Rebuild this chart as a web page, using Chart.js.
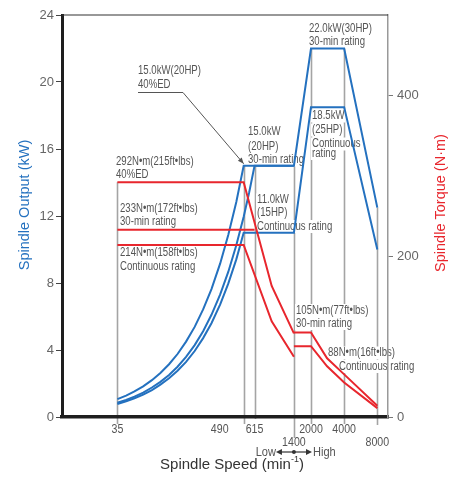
<!DOCTYPE html>
<html>
<head>
<meta charset="utf-8">
<script src="https://cdn.jsdelivr.net/npm/chart.js@4.4.1/dist/chart.umd.min.js"></script>
<style>
  body { margin: 0; background: #fff; }
  canvas { display: block; }
</style>
</head>
<body>
<canvas id="chart" width="476" height="480"></canvas>
<script>
const speedTicks = [35, 490, 615, 1400, 2000, 4000, 8000];
const outputTicks = [0, 4, 8, 12, 16, 20, 24];
const torqueTicks = [0, 200, 400];

// spindle output, kW
const out40EDSpeed = [35, 42, 50, 60, 72, 86, 103, 123, 147, 176, 210, 250, 300, 355, 420, 490, 1400];
const out40EDKw = [1.07, 1.28, 1.53, 1.83, 2.20, 2.63, 3.15, 3.76, 4.50, 5.38, 6.42, 7.64, 9.17, 10.86, 12.84, 15.0, 15.0];
const out30MinSpeed = [35, 42, 50, 60, 72, 86, 103, 123, 147, 176, 210, 250, 300, 355, 420, 490, 550, 615, 1400, 2000, 4000, 8000];
const out30MinKw = [0.85, 1.02, 1.22, 1.46, 1.76, 2.10, 2.51, 3.00, 3.59, 4.29, 5.12, 6.10, 7.32, 8.66, 10.25, 11.96, 13.42, 15.0, 15.0, 22.0, 22.0, 12.5];
const outContSpeed = [35, 42, 50, 60, 72, 86, 103, 123, 147, 176, 210, 250, 300, 355, 420, 490, 1400, 2000, 4000, 8000];
const outContKw = [0.78, 0.94, 1.12, 1.34, 1.61, 1.93, 2.31, 2.76, 3.29, 3.94, 4.71, 5.60, 6.72, 7.96, 9.41, 11.0, 11.0, 18.5, 18.5, 10.0];

// spindle torque, N·m
const tq40EDSpeed = [35, 490, 880, 1400];
const tq40EDNm = [292, 292, 163, 104];
const tq30MinLowSpeed = [35, 615];
const tq30MinLowNm = [233, 233];
const tqContLowSpeed = [35, 490, 880, 1400];
const tqContLowNm = [214, 214, 119, 75];
const tq30MinHighSpeed = [1400, 2000, 2800, 4000, 8000];
const tq30MinHighNm = [105, 105, 73, 53, 14];
const tqContHighSpeed = [1400, 2000, 2800, 4000, 8000];
const tqContHighNm = [88, 88, 63, 43, 11];

const BLUE = '#2471bf';
const RED = '#e8262d';
const TEXT = '#555';
const GUIDE = '#a4a4a4';
const FAMILY = '"Liberation Sans", Arial, sans-serif';

function zip(xs, ys) {
  return xs.map((x, i) => ({ x: x, y: ys[i] }));
}

function line(xs, ys, color, axis) {
  return {
    data: zip(xs, ys),
    yAxisID: axis,
    borderColor: color,
    borderWidth: 2,
    pointRadius: 0,
    tension: 0,
    fill: false
  };
}

// vertical guides: speed, axis and value where the guide stops at the top
const guides = [
  { speed: 35, axis: 'yNm', top: 292, below: 5 },
  { speed: 490, axis: 'yKw', top: 15, below: 5 },
  { speed: 615, axis: 'yKw', top: 15, below: 0 },
  { speed: 1400, axis: 'yKw', top: 15, below: 19 },
  { speed: 2000, axis: 'yKw', top: 22, below: 5 },
  { speed: 4000, axis: 'yKw', top: 22, below: 5 },
  { speed: 8000, axis: 'yKw', top: 12.5, below: 6 }
];

// text notes, left x and centre y of each line
const notes = [
  { x: 138, ys: [71, 85], lines: ['15.0kW(20HP)', '40%ED'] },
  { x: 116, ys: [161.5, 174.5], lines: ['292N\u2022m(215ft\u2022lbs)', '40%ED'] },
  { x: 120, ys: [208.5, 221.5], lines: ['233N\u2022m(172ft\u2022lbs)', '30-min rating'] },
  { x: 120, ys: [253, 266.5], lines: ['214N\u2022m(158ft\u2022lbs)', 'Continuous rating'] },
  { x: 248, ys: [132, 146.5, 160], lines: ['15.0kW', '(20HP)', '30-min rating'] },
  { x: 257, ys: [200, 213, 226.5], lines: ['11.0kW', '(15HP)', 'Continuous rating'] },
  { x: 309, ys: [29, 42], lines: ['22.0kW(30HP)', '30-min rating'] },
  { x: 312, ys: [116, 130, 144, 153.5], lines: ['18.5kW', '(25HP)', 'Continuous', 'rating'] },
  { x: 296, ys: [310.5, 323.5], lines: ['105N\u2022m(77ft\u2022lbs)', '30-min rating'] },
  { x: 328, ys: [353], lines: ['88N\u2022m(16ft\u2022lbs)'] },
  { x: 339, ys: [366.5], lines: ['Continuous rating'] }
];

function squeezed(ctx, str, x, y, sx) {
  ctx.save();
  ctx.translate(x, y);
  ctx.scale(sx, 1);
  ctx.fillText(str, 0, 0);
  ctx.restore();
}

function arrowHead(ctx, x1, y1, x2, y2, len, half) {
  const a = Math.atan2(y2 - y1, x2 - x1);
  ctx.beginPath();
  ctx.moveTo(x2, y2);
  ctx.lineTo(x2 - len * Math.cos(a) + half * Math.sin(a), y2 - len * Math.sin(a) - half * Math.cos(a));
  ctx.lineTo(x2 - len * Math.cos(a) - half * Math.sin(a), y2 - len * Math.sin(a) + half * Math.cos(a));
  ctx.closePath();
  ctx.fill();
}

const chartDecor = {
  id: 'chartDecor',
  beforeDraw(chart) {
    const ctx = chart.ctx;
    const x = chart.scales.x;
    const bottom = chart.chartArea.bottom;

    ctx.save();
    ctx.strokeStyle = GUIDE;
    ctx.lineWidth = 1.6;
    guides.forEach(g => {
      const px = Math.round(x.getPixelForValue(g.speed)) + 0.5;
      const top = chart.scales[g.axis].getPixelForValue(g.top);
      ctx.beginPath();
      ctx.moveTo(px, top);
      ctx.lineTo(px, bottom + 2 + g.below);
      ctx.stroke();
    });

    ctx.font = '12px ' + FAMILY;
    ctx.textBaseline = 'middle';
    notes.forEach(n => {
      n.lines.forEach((s, i) => {
        const w = ctx.measureText(s).width * 0.8;
        ctx.fillStyle = '#fff';
        ctx.fillRect(n.x - 1, n.ys[i] - 6.5, w + 2, 13);
        ctx.fillStyle = TEXT;
        squeezed(ctx, s, n.x, n.ys[i], 0.8);
      });
    });

    // leader from the 40%ED note to the 15 kW corner
    const tipX = x.getPixelForValue(490);
    const tipY = chart.scales.yKw.getPixelForValue(15) - 2;
    ctx.strokeStyle = '#555';
    ctx.fillStyle = '#555';
    ctx.lineWidth = 1;
    ctx.beginPath();
    ctx.moveTo(138, 92.5);
    ctx.lineTo(183, 92.5);
    ctx.lineTo(tipX, tipY);
    ctx.stroke();
    arrowHead(ctx, 183, 92.5, tipX, tipY, 6, 2.5);
    ctx.restore();
  },
  afterDraw(chart) {
    const ctx = chart.ctx;
    const area = chart.chartArea;
    const x = chart.scales.x;

    ctx.save();
    ctx.strokeStyle = '#333';
    ctx.lineWidth = 1.2;
    ctx.beginPath();
    ctx.moveTo(area.left, area.top);
    ctx.lineTo(area.right, area.top);
    ctx.stroke();

    // speed labels, two rows
    ctx.font = '12.5px ' + FAMILY;
    ctx.fillStyle = TEXT;
    ctx.textBaseline = 'middle';
    const shift = { 490: -24 };
    speedTicks.forEach(v => {
      const s = String(v);
      const w = ctx.measureText(s).width * 0.85;
      const row = (v === 1400 || v === 8000) ? 442.5 : 430;
      const cx = x.getPixelForValue(v) + (shift[v] || 0);
      squeezed(ctx, s, cx - w / 2, row, 0.85);
    });

    // low / high gear range marker
    const x1400 = x.getPixelForValue(1400);
    const x2000 = x.getPixelForValue(2000);
    const yr = 452;
    ctx.font = '13px ' + FAMILY;
    const lw = ctx.measureText('Low').width * 0.85;
    squeezed(ctx, 'Low', x1400 - 18 - lw, yr, 0.85);
    squeezed(ctx, 'High', x2000 + 2, yr, 0.85);
    ctx.strokeStyle = '#333';
    ctx.fillStyle = '#333';
    ctx.lineWidth = 1.2;
    ctx.beginPath();
    ctx.moveTo(x1400 - 14, yr);
    ctx.lineTo(x2000 - 3, yr);
    ctx.stroke();
    arrowHead(ctx, x1400, yr, x1400 - 18, yr, 6, 3);
    arrowHead(ctx, x1400, yr, x2000 + 1, yr, 6, 3);
    ctx.beginPath();
    ctx.arc(x1400, yr, 2, 0, Math.PI * 2);
    ctx.fill();

    // axis titles
    ctx.textBaseline = 'middle';
    const main = 'Spindle Speed (min';
    const tail = ')';
    ctx.font = '15px ' + FAMILY;
    const wMain = ctx.measureText(main).width;
    ctx.font = '9px ' + FAMILY;
    const wSup = ctx.measureText('-1').width;
    ctx.font = '15px ' + FAMILY;
    const wTail = ctx.measureText(tail).width;
    const tx = 232 - (wMain + wSup + wTail) / 2;
    ctx.fillStyle = '#333';
    ctx.textAlign = 'left';
    ctx.fillText(main, tx, 465);
    ctx.font = '9px ' + FAMILY;
    ctx.fillText('-1', tx + wMain, 460);
    ctx.font = '15px ' + FAMILY;
    ctx.fillText(tail, tx + wMain + wSup, 465);

    ctx.textAlign = 'center';
    ctx.font = '14.5px ' + FAMILY;
    ctx.save();
    ctx.translate(25, 205);
    ctx.rotate(-Math.PI / 2);
    ctx.fillStyle = BLUE;
    ctx.fillText('Spindle Output (kW)', 0, 0);
    ctx.restore();
    ctx.save();
    ctx.translate(441, 203);
    ctx.rotate(-Math.PI / 2);
    ctx.fillStyle = RED;
    ctx.fillText('Spindle Torque (N\u00b7m)', 0, 0);
    ctx.restore();
    ctx.restore();
  }
};

new Chart(document.getElementById('chart'), {
  type: 'line',
  data: {
    datasets: [
      line(tq40EDSpeed, tq40EDNm, RED, 'yNm'),
      line(tq30MinLowSpeed, tq30MinLowNm, RED, 'yNm'),
      line(tqContLowSpeed, tqContLowNm, RED, 'yNm'),
      line(tq30MinHighSpeed, tq30MinHighNm, RED, 'yNm'),
      line(tqContHighSpeed, tqContHighNm, RED, 'yNm'),
      line(out40EDSpeed, out40EDKw, BLUE, 'yKw'),
      line(out30MinSpeed, out30MinKw, BLUE, 'yKw'),
      line(outContSpeed, outContKw, BLUE, 'yKw')
    ]
  },
  options: {
    responsive: false,
    animation: false,
    layout: { padding: { top: 15, left: 0, right: 0, bottom: 0 } },
    plugins: { legend: { display: false }, tooltip: { enabled: false } },
    scales: {
      x: {
        type: 'logarithmic',
        min: 11,
        max: 10000,
        afterBuildTicks: s => { s.ticks = speedTicks.map(v => ({ value: v })); },
        afterFit: s => { s.height = 63; },
        ticks: { display: false },
        grid: { drawOnChartArea: false, drawTicks: false },
        border: { color: '#1e1e1e', width: 3.5 }
      },
      yKw: {
        position: 'left',
        min: 0,
        max: 24,
        afterBuildTicks: s => { s.ticks = outputTicks.map(v => ({ value: v })); },
        afterFit: s => { s.width = 62; },
        ticks: { color: '#666', padding: 2, font: { family: '"Liberation Sans Narrow", "Liberation Sans", Arial', size: 13 } },
        grid: { drawOnChartArea: false, tickLength: 6, tickColor: '#444' },
        border: { color: '#1e1e1e', width: 3 }
      },
      yNm: {
        position: 'right',
        min: 0,
        max: 500,
        afterBuildTicks: s => { s.ticks = torqueTicks.map(v => ({ value: v })); },
        afterFit: s => { s.width = 88; },
        ticks: { color: '#666', padding: 4, font: { family: '"Liberation Sans Narrow", "Liberation Sans", Arial', size: 13 } },
        grid: { drawOnChartArea: false, tickLength: 5, tickColor: '#777' },
        border: { color: '#999', width: 1.5 }
      }
    }
  },
  plugins: [chartDecor]
});
</script>
</body>
</html>
